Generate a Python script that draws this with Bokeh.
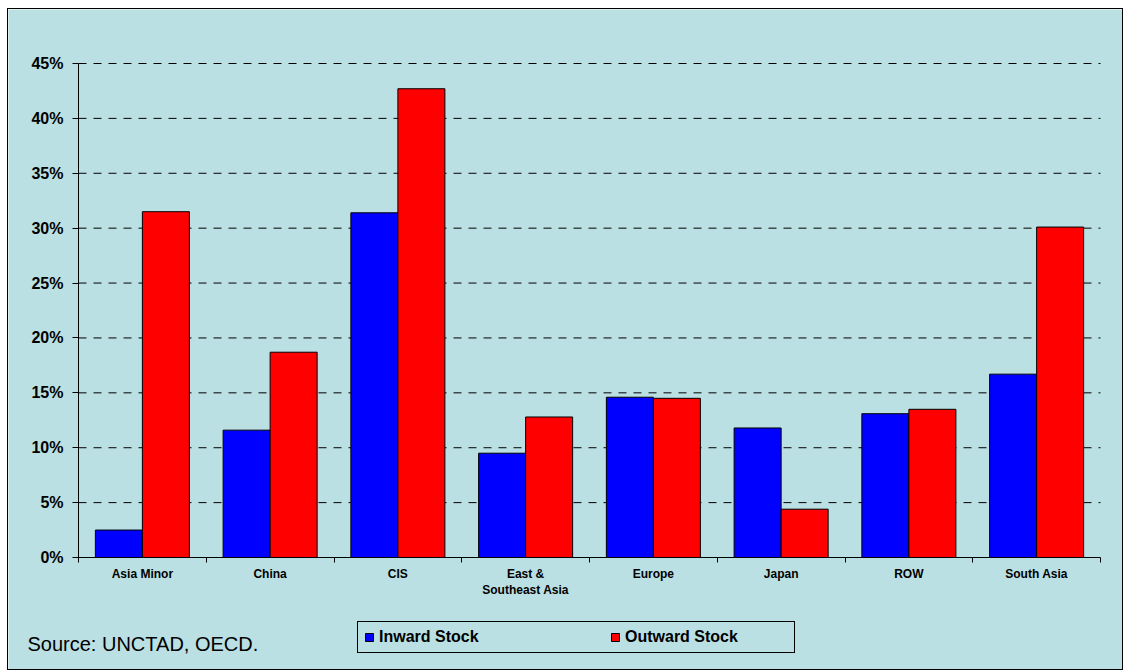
from bokeh.plotting import figure
from bokeh.models import (ColumnDataSource, Range1d, FixedTicker, PrintfTickFormatter,
                          Legend, LegendItem, Label)
from bokeh.transform import dodge
from bokeh.embed import file_html
from bokeh.resources import INLINE

categories = ["Asia Minor", "China", "CIS", "East &\nSoutheast Asia", "Europe", "Japan", "ROW", "South Asia"]
inward = [2.5, 11.6, 31.4, 9.5, 14.6, 11.8, 13.1, 16.7]
outward = [31.5, 18.7, 42.7, 12.8, 14.5, 4.4, 13.5, 30.1]
y_ticks = [0, 5, 10, 15, 20, 25, 30, 35, 40, 45]
source_text = "Source: UNCTAD, OECD."

BG = "#BAE0E3"
FONT = "Liberation Sans"

n = len(categories)
xpos = [i + 0.5 for i in range(n)]
src = ColumnDataSource(dict(x=xpos, inward=inward, outward=outward))
grid_src = ColumnDataSource(dict(y=y_ticks[1:], x0=[0] * (len(y_ticks) - 1), x1=[n] * (len(y_ticks) - 1)))

# canvas geometry (pixels) used only to set the ranges so the frame fills the canvas
W, H = 1116, 662
px_x0, px_cat = 70, 127.75          # x=0 at 70px from canvas left, 127.75px per category
px_y0, px_top = 548, 54             # y=0 at 548px from canvas top, y=45 at 54px
ymax = y_ticks[-1]
ppu = (px_y0 - px_top) / ymax
x_range = Range1d(-px_x0 / px_cat, (W - px_x0) / px_cat)
y_range = Range1d(-(H - px_y0) / ppu, ymax + px_top / ppu)

p = figure(width=W, height=H, output_backend="svg", toolbar_location=None,
           x_range=x_range, y_range=y_range,
           min_border=0, min_border_left=0, min_border_right=0, min_border_top=0, min_border_bottom=0)
p.styles = {"border": "1px solid black", "margin-left": "7px", "margin-top": "8px"}
p.background_fill_color = BG
p.border_fill_color = BG
p.outline_line_color = None
p.xgrid.visible = False
p.ygrid.visible = False

p.segment(x0="x0", x1="x1", y0="y", y1="y", source=grid_src,
          line_color="black", line_width=1, line_dash="8 7")

bw = 0.368
r_in = p.vbar(x=dodge("x", -bw / 2, range=p.x_range), top="inward", width=bw, source=src,
              fill_color="#0000FF", line_color="black", line_width=1)
r_out = p.vbar(x=dodge("x", bw / 2, range=p.x_range), top="outward", width=bw, source=src,
               fill_color="#FF0000", line_color="black", line_width=1)

# y axis
p.yaxis.fixed_location = 0
p.yaxis.bounds = (0, ymax)
p.yaxis.ticker = FixedTicker(ticks=y_ticks)
p.yaxis.formatter = PrintfTickFormatter(format="%d%%")
p.yaxis.major_label_text_font = FONT
p.yaxis.major_label_text_font_style = "bold"
p.yaxis.major_label_text_font_size = "16px"
p.yaxis.major_label_text_color = "black"
p.yaxis.major_tick_out = 6
p.yaxis.major_tick_in = 0
p.yaxis.minor_tick_line_color = None
p.yaxis.axis_line_color = "black"
p.yaxis.major_label_standoff = 9

# x axis
p.xaxis.fixed_location = 0
p.xaxis.bounds = (0, n)
p.xaxis.ticker = FixedTicker(ticks=xpos, minor_ticks=list(range(n + 1)))
p.xaxis.major_label_overrides = {x: c for x, c in zip(xpos, categories)}
p.xaxis.major_tick_line_color = None
p.xaxis.major_tick_out = 0
p.xaxis.minor_tick_out = 5
p.xaxis.minor_tick_in = 0
p.xaxis.minor_tick_line_color = "black"
p.xaxis.axis_line_color = "black"
p.xaxis.major_label_text_font = FONT
p.xaxis.major_label_text_font_style = "bold"
p.xaxis.major_label_text_font_size = "12px"
p.xaxis.major_label_text_color = "black"
p.xaxis.major_label_standoff = 4

legend = Legend(items=[LegendItem(label="Inward Stock", renderers=[r_in]),
                       LegendItem(label="Outward Stock", renderers=[r_out])],
                orientation="horizontal", location=(349, 18),
                background_fill_color=BG, background_fill_alpha=1,
                border_line_color="black", border_line_width=1, border_line_alpha=1,
                label_text_font=FONT, label_text_font_style="bold", label_text_font_size="16px",
                label_text_color="black",
                glyph_width=10, glyph_height=10, label_standoff=5, label_width=163,
                spacing=68, padding=6, margin=0)
p.add_layout(legend, "center")

p.add_layout(Label(x=19, y=28, x_units="screen", y_units="screen", text=source_text,
                   text_font=FONT, text_font_size="20px", text_color="black",
                   text_baseline="alphabetic"))

open("out.html", "w").write(file_html(p, INLINE))
